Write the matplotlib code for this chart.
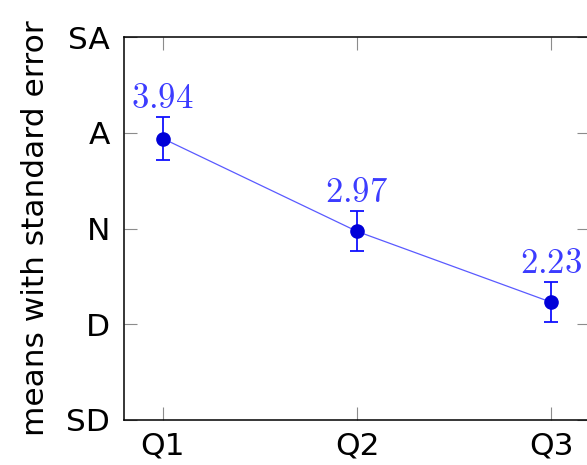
import matplotlib.pyplot as plt
import numpy as np

plt.rcParams["mathtext.fontset"] = "cm"

questions = ["Q1", "Q2", "Q3"]
means = [3.94, 2.97, 2.23]
std_err = [0.22, 0.21, 0.21]
likert_labels = ["SD", "D", "N", "A", "SA"]
likert_values = [1, 2, 3, 4, 5]


def plot_means(save_name="out.png"):
    x = np.arange(1, len(questions) + 1)
    fig = plt.figure(figsize=(5.87, 4.65), dpi=100)
    ax = fig.add_axes([0.2112, 0.0968, 0.794, 0.8236])

    ax.plot(x, means, color="#5a5aff", linewidth=0.9, zorder=2)
    ax.errorbar(x, means, yerr=std_err, fmt="none", ecolor="#1010ff",
                elinewidth=1.3, capsize=5, capthick=1.3, zorder=3)
    ax.plot(x, means, "o", color="#0000d8", markersize=9.5, zorder=4)

    for xi, m, e in zip(x, means, std_err):
        ax.annotate(f"${m:.2f}$", (xi, m + e), xytext=(0, 1.5),
                    textcoords="offset points", ha="center", va="bottom",
                    fontsize=25, color="#3c3cff")

    ax.set_xlim(0.8, 3.2)
    ax.set_ylim(1, 5)
    ax.set_xticks(x)
    ax.set_xticklabels(questions)
    ax.set_yticks(likert_values)
    ax.set_yticklabels(likert_labels)
    ax.tick_params(direction="in", length=9.5, width=0.8, color="#8c8c8c",
                   top=True, right=True, labelsize=22.5, labelcolor="black")
    ax.tick_params(axis="y", pad=10)
    ax.tick_params(axis="x", pad=8)
    ax.set_ylabel("means with standard error", fontsize=22.5, labelpad=12)
    for spine in ax.spines.values():
        spine.set_linewidth(1.1)

    fig.savefig(save_name, dpi=100)


plot_means()
